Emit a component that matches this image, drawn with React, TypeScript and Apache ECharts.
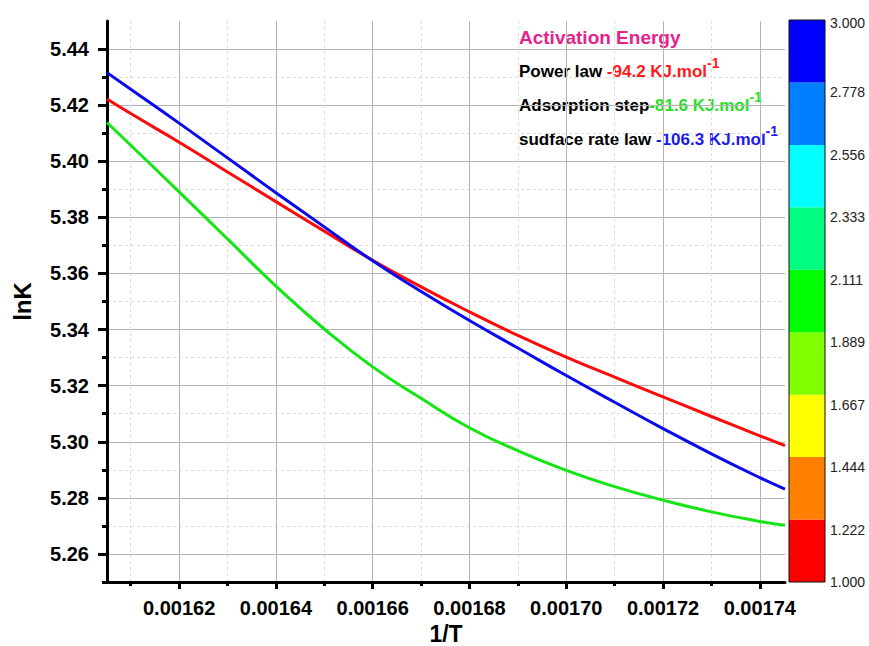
import React, { useEffect, useRef } from 'react';
import * as echarts from 'echarts';

// 1/T values (K^-1)
const invT = [0.0016051, 0.00161, 0.00162, 0.00163, 0.00164, 0.00165, 0.00166, 0.00167, 0.00168, 0.00169, 0.0017, 0.00171, 0.00172, 0.00173, 0.00174, 0.0017452];
// lnK series
const powerLaw = [5.4222, 5.4170, 5.4068, 5.3962, 5.3856, 5.3751, 5.3647, 5.3552, 5.3463, 5.3379, 5.3302, 5.3230, 5.3160, 5.3090, 5.3021, 5.2986];
const adsorptionStep = [5.4138, 5.4057, 5.3891, 5.3723, 5.3555, 5.3402, 5.3267, 5.3155, 5.3050, 5.2968, 5.2898, 5.2840, 5.2792, 5.2750, 5.2716, 5.2702];
const surfaceRateLaw = [5.4316, 5.4257, 5.4136, 5.4012, 5.3888, 5.3766, 5.3645, 5.3536, 5.3432, 5.3334, 5.3236, 5.3141, 5.3047, 5.2957, 5.2872, 5.2831];

const xMin = 0.0016051;
const xMax = 0.0017452;
const yMin = 5.25;
const yMax = 5.45;
const xMajorTicks = [0.00162, 0.00164, 0.00166, 0.00168, 0.0017, 0.00172, 0.00174];
const xMinorTicks = [0.00161, 0.00163, 0.00165, 0.00167, 0.00169, 0.00171, 0.00173];
const yMajorTicks = [5.26, 5.28, 5.3, 5.32, 5.34, 5.36, 5.38, 5.4, 5.42, 5.44];
const yMinorTicks = [5.25, 5.27, 5.29, 5.31, 5.33, 5.35, 5.37, 5.39, 5.41, 5.43];

// colour scale
const colorbarColors = ['#ff0000', '#ff8000', '#ffff00', '#80ff00', '#00ff00', '#00ff80', '#00ffff', '#0080ff', '#0000ff'];
const colorbarLabels = ['1.000', '1.222', '1.444', '1.667', '1.889', '2.111', '2.333', '2.556', '2.778', '3.000'];
const colorbarSteps = [1, 1, 1, 1, 1, 1, 1, 1, 1];

// annotation
const annotationTitle = 'Activation Energy';
const annotationRows = [
  { name: 'Power law ', value: '-94.2 KJ.mol', color: '#ff1a1a' },
  { name: 'Adsorption step', value: '-81.6 KJ.mol', color: '#22e022' },
  { name: 'sudface rate law ', value: '-106.3 KJ.mol', color: '#1a1aee' },
];

const FONT = "'Liberation Sans', Arial, Helvetica, sans-serif";

export default function App() {
  const ref = useRef<HTMLDivElement>(null);

  useEffect(() => {
    if (!ref.current) return;
    const chart = echarts.init(ref.current, null, { renderer: 'svg' });

    const pairs = (ys: number[]) => invT.map((x, i) => [x, ys[i]]);

    const majorTickStyle = { color: '#000', width: 3 };

    const option: any = {
      animation: false,
      backgroundColor: '#fff',
      grid: [
        { left: 107, right: 84, top: 21, bottom: 64, containLabel: false, outerBoundsMode: 'none' },
        {
          left: 789, right: 44, top: 20, bottom: 64, containLabel: false, outerBoundsMode: 'none',
          show: true, borderColor: '#111', borderWidth: 1, backgroundColor: 'transparent', z: 10,
        },
      ],
      xAxis: [
        {
          type: 'value', gridIndex: 0, min: xMin, max: xMax, interval: 0.00001, position: 'bottom',
          axisLine: { show: false, onZero: false },
          axisTick: { show: true, customValues: xMinorTicks, length: 4, lineStyle: majorTickStyle },
          axisLabel: { show: false },
          splitLine: { show: true, lineStyle: { color: '#dcdcdc', width: 1, type: [3, 3] } },
        },
        {
          type: 'value', gridIndex: 0, min: xMin, max: xMax, interval: 0.00002, position: 'bottom',
          axisLine: { show: true, onZero: false, lineStyle: { color: '#000', width: 3 } },
          axisTick: { show: true, customValues: xMajorTicks, length: 7, lineStyle: majorTickStyle },
          axisLabel: {
            customValues: xMajorTicks, formatter: (v: number) => v.toFixed(5),
            fontSize: 20, fontWeight: 'bold', color: '#000', fontFamily: FONT, margin: 16,
          },
          splitLine: { show: true, lineStyle: { color: '#b4b4b4', width: 1 } },
          name: '1/T', nameLocation: 'middle', nameGap: 33,
          nameTextStyle: { fontSize: 23, fontWeight: 'bold', color: '#000', fontFamily: FONT, lineHeight: 23 },
        },
        { type: 'category', gridIndex: 1, data: [''], show: false },
      ],
      yAxis: [
        {
          type: 'value', gridIndex: 0, min: yMin, max: yMax, interval: 0.01, position: 'left',
          axisLine: { show: false, onZero: false },
          axisTick: { show: true, customValues: yMinorTicks, length: 5, lineStyle: majorTickStyle },
          axisLabel: { show: false },
          splitLine: { show: true, lineStyle: { color: '#dcdcdc', width: 1, type: [3, 3] } },
        },
        {
          type: 'value', gridIndex: 0, min: yMin, max: yMax, interval: 0.02, position: 'left',
          axisLine: { show: true, onZero: false, lineStyle: { color: '#000', width: 3 } },
          axisTick: { show: true, customValues: yMajorTicks, length: 9, lineStyle: majorTickStyle },
          axisLabel: {
            customValues: yMajorTicks, formatter: (v: number) => v.toFixed(2),
            fontSize: 20, fontWeight: 'bold', color: '#000', fontFamily: FONT, margin: 18,
          },
          splitLine: { show: true, lineStyle: { color: '#b4b4b4', width: 1 } },
          name: 'lnK', nameLocation: 'middle', nameGap: 73,
          nameTextStyle: { fontSize: 24, fontWeight: 'bold', color: '#000', fontFamily: FONT },
        },
        {
          type: 'value', gridIndex: 1, min: 0, max: colorbarSteps.length, interval: 1, position: 'right',
          axisLine: { show: false }, axisTick: { show: false }, splitLine: { show: false },
          axisLabel: {
            margin: 5, color: '#222', fontSize: 14, fontFamily: FONT,
            formatter: (v: number) => {
              const i = Math.round(v);
              const t = colorbarLabels[i] ?? '';
              if (i === 0) return '{e|' + t + '}';
              if (i === colorbarLabels.length - 1) return '{t|' + t + '}';
              return '{m|' + t + '}';
            },
            rich: {
              e: { fontSize: 14, color: '#222', fontFamily: FONT },
              t: { fontSize: 14, color: '#222', fontFamily: FONT, padding: [6, 0, 0, 0] },
              m: { fontSize: 14, color: '#222', fontFamily: FONT, padding: [20, 0, 0, 0] },
            },
          },
        },
      ],
      series: [
        {
          type: 'line', name: 'Power law', xAxisIndex: 1, yAxisIndex: 1, data: pairs(powerLaw),
          smooth: true, symbol: 'none', lineStyle: { color: '#ff0a0a', width: 3 }, z: 5,
        },
        {
          type: 'line', name: 'Adsorption step', xAxisIndex: 1, yAxisIndex: 1, data: pairs(adsorptionStep),
          smooth: true, symbol: 'none', lineStyle: { color: '#14e614', width: 3 }, z: 5,
        },
        {
          type: 'line', name: 'sudface rate law', xAxisIndex: 1, yAxisIndex: 1, data: pairs(surfaceRateLaw),
          smooth: true, symbol: 'none', lineStyle: { color: '#0a0aee', width: 3 }, z: 6,
        },
        ...colorbarColors.map((c, i) => ({
          type: 'bar', xAxisIndex: 2, yAxisIndex: 2, stack: 'cb', barWidth: '100%',
          data: [colorbarSteps[i]], itemStyle: { color: c }, silent: true,
        })),
      ],
      graphic: [
        {
          type: 'text', left: 519, top: 28,
          style: { text: annotationTitle, fill: '#e6228c', font: `bold 19px ${FONT}` },
        },
        ...annotationRows.map((r, i) => ({
          type: 'text', left: 519, top: 56 + i * 34,
          style: {
            text: `{k|${r.name}}{v|${r.value}}{s|-1}`,
            rich: {
              k: { fill: '#000', fontSize: 17, fontWeight: 'bold', fontFamily: FONT, lineHeight: 24, verticalAlign: 'bottom' },
              v: { fill: r.color, fontSize: 17, fontWeight: 'bold', fontFamily: FONT, lineHeight: 24, verticalAlign: 'bottom' },
              s: { fill: r.color, fontSize: 14, fontWeight: 'bold', fontFamily: FONT, verticalAlign: 'top' },
            },
          },
        })),
      ],
    };

    chart.setOption(option);
    return () => chart.dispose();
  }, []);

  return (
    <div
      ref={ref}
      style={{ position: 'absolute', left: 0, top: 0, width: 869, height: 646, background: '#fff' }}
    />
  );
}
